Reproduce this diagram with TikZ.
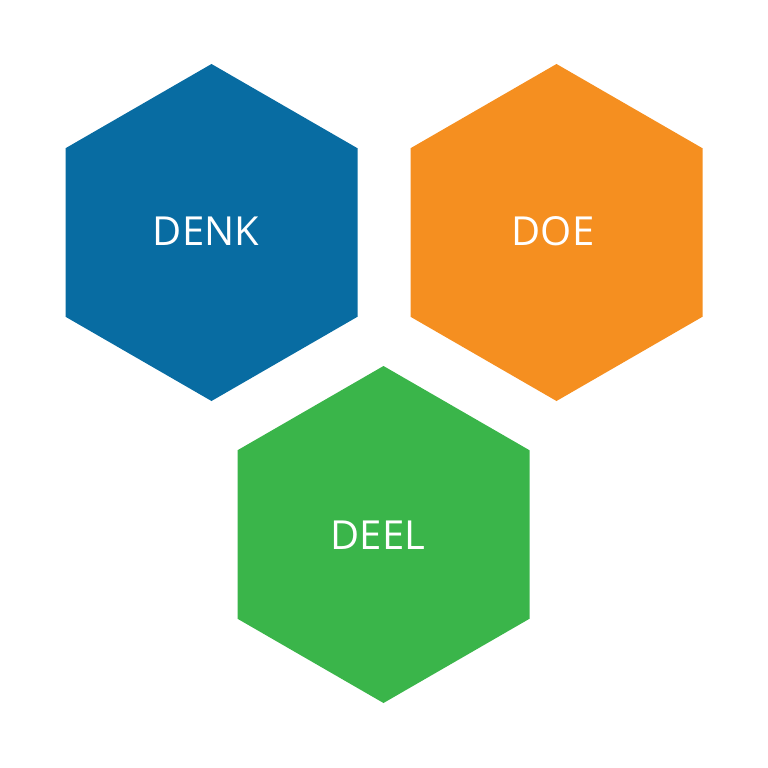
\documentclass[tikz,border=0pt]{standalone}
\usepackage{fontspec}
\setmainfont{Open Sans}
\definecolor{hexblue}{HTML}{086CA2}
\definecolor{hexorange}{HTML}{F58F20}
\definecolor{hexgreen}{HTML}{3AB54A}
\begin{document}
\begin{tikzpicture}[x=1pt,y=-1pt,
  hexlabel/.style={text=white,font=\fontsize{40}{40}\selectfont,inner sep=0pt,anchor=center}]
\useasboundingbox (0,0) rectangle (768,768);
\newcommand\hexat[3]{%
  \fill[#3] (#1,#2-168.5) -- (#1+146,#2-84.25) -- (#1+146,#2+84.25) -- (#1,#2+168.5) -- (#1-146,#2+84.25) -- (#1-146,#2-84.25) -- cycle;}
\hexat{211.5}{232.5}{hexblue}
\hexat{556.5}{232.5}{hexorange}
\hexat{383.5}{534.5}{hexgreen}
\node[hexlabel] (denk) at (206,231) {DENK};
\node[hexlabel] (doe) at (553,231) {DOE};
\node[hexlabel] (deel) at (378,535) {DEEL};
\end{tikzpicture}
\end{document}
